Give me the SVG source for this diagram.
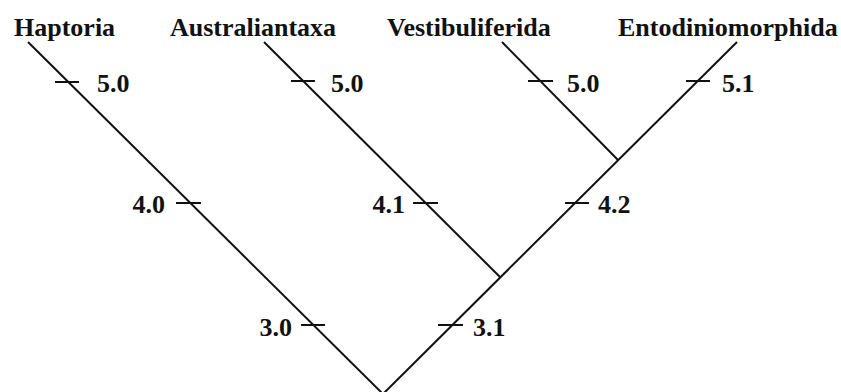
<svg xmlns="http://www.w3.org/2000/svg" width="841" height="392" viewBox="0 0 841 392">
<style>
.t{font-family:"Liberation Serif","Times New Roman",serif;font-weight:bold;font-size:26px;fill:#111}
.e{stroke:#111;stroke-width:2;fill:none;stroke-linecap:butt}
</style>
<rect width="841" height="392" fill="#fff"/>
<g id="connectors" class="e">
<line x1="28" y1="42" x2="383" y2="394"/>
<line x1="737" y1="42" x2="383" y2="394"/>
<line x1="264" y1="42" x2="500" y2="277"/>
<line x1="502" y1="42" x2="618" y2="160"/>
</g>
<g id="ticks" class="e">
<line x1="55" y1="82" x2="79" y2="82"/>
<line x1="291" y1="81" x2="315" y2="81"/>
<line x1="528" y1="81" x2="553" y2="81"/>
<line x1="686" y1="81" x2="710" y2="81"/>
<line x1="176" y1="203" x2="201" y2="203"/>
<line x1="413" y1="203" x2="438" y2="203"/>
<line x1="565" y1="203" x2="589" y2="203"/>
<line x1="301" y1="325" x2="325" y2="325"/>
<line x1="438" y1="325" x2="463" y2="325"/>
</g>
<g id="haptoria"><text class="t" x="14" y="36">Haptoria</text></g>
<g id="australiantaxa"><text class="t" x="170" y="36">Australiantaxa</text></g>
<g id="vestibuliferida"><text class="t" x="387" y="36">Vestibuliferida</text></g>
<g id="entodiniomorphida"><text class="t" x="618" y="36">Entodiniomorphida</text></g>
<g id="labels" class="t">
<text x="97" y="92">5.0</text>
<text x="331" y="92">5.0</text>
<text x="567" y="92">5.0</text>
<text x="722" y="92">5.1</text>
<text x="165" y="213" text-anchor="end">4.0</text>
<text x="405" y="213" text-anchor="end">4.1</text>
<text x="598" y="213">4.2</text>
<text x="292" y="336" text-anchor="end">3.0</text>
<text x="473" y="336">3.1</text>
</g>
</svg>
